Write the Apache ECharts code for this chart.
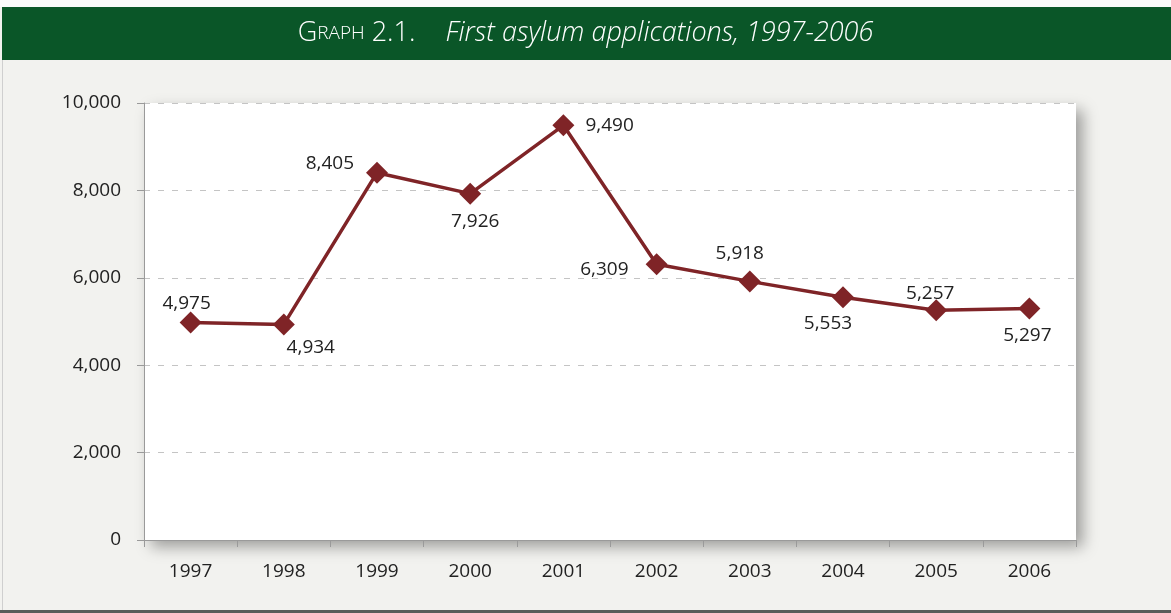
<!DOCTYPE html>
<html><head><meta charset="utf-8">
<script src="https://cdn.jsdelivr.net/npm/echarts@6/dist/echarts.min.js"></script>
<style>html,body{margin:0;padding:0;background:#f2f2ef;}#c{width:1171px;height:613px;}</style>
</head><body><div id="c"></div>
<script>
const years = ['1997','1998','1999','2000','2001','2002','2003','2004','2005','2006'];
const applications = [4975, 4934, 8405, 7926, 9490, 6309, 5918, 5553, 5257, 5297];
const yTicks = [0, 2000, 4000, 6000, 8000, 10000];
const labelPlacement = [
  {position:'top', offset:[-4,9]},
  {position:'bottom', offset:[27,-4]},
  {position:'left', offset:[-5,-9]},
  {position:'bottom', offset:[5,0]},
  {position:'right', offset:[4,0]},
  {position:'left', offset:[-10,5]},
  {position:'top', offset:[-10,0]},
  {position:'bottom', offset:[-15,-1]},
  {position:'top', offset:[-6,11]},
  {position:'bottom', offset:[-2,0]}
];
const FONT = '"Open Sans", sans-serif';
const chart = echarts.init(document.getElementById('c'), null, {renderer:'canvas'});
chart.setOption({
  backgroundColor:'#f2f2ef',
  animation:false,
  graphic:[
    {type:'rect', shape:{x:0,y:0,width:1171,height:7}, style:{fill:'#fafafa'}, z:-1},
    {type:'rect', shape:{x:2,y:7,width:1169,height:53}, style:{fill:'#0a5628'}},
    {type:'rect', shape:{x:2,y:60,width:1,height:550}, style:{fill:'#cfcfcf'}},
    {type:'rect', shape:{x:0,y:610,width:1171,height:3}, style:{fill:'#5a5a5a'}},
    {type:'text', left:'center', top:20,
      style:{
        text:'{a|G}{b|RAPH}{a| 2.1.}{s| }{i|First asylum applications, 1997-2006}',
        rich:{
          a:{fill:'#fff', fontSize:27, fontFamily:FONT, fontWeight:300},
          b:{fill:'#fff', fontSize:19, fontFamily:FONT, fontWeight:300},
          s:{width:30, fontSize:27},
          i:{fill:'#fff', fontSize:27, fontFamily:FONT, fontStyle:'italic', fontWeight:300}
        }
      }}
  ],
  grid:{left:144, right:95, top:103, bottom:73, show:true, backgroundColor:'#ffffff', borderWidth:0,
    shadowColor:'rgba(0,0,0,0.35)', shadowBlur:14, shadowOffsetX:7, shadowOffsetY:7},
  xAxis:{type:'category', data:years, boundaryGap:true,
    axisLine:{lineStyle:{color:'#9a9a9a', width:1}},
    axisTick:{show:true, length:7, lineStyle:{color:'#9a9a9a'}},
    axisLabel:{color:'#222', fontSize:19, fontFamily:FONT, margin:22}},
  yAxis:{type:'value', min:0, max:10000, interval:2000,
    axisLine:{show:true, lineStyle:{color:'#9a9a9a', width:1}},
    axisTick:{show:true, length:7, lineStyle:{color:'#9a9a9a'}},
    axisLabel:{color:'#222', fontSize:19, fontFamily:FONT, margin:23,
      formatter:v=>v.toLocaleString('en-US')},
    splitLine:{show:true, lineStyle:{color:'#c4c4c4', type:[6,8], width:1}}},
  series:[{
    type:'line', data:applications.map((v,i)=>({value:v, label:labelPlacement[i]})),
    symbol:'diamond', symbolSize:22,
    lineStyle:{color:'#7f2427', width:3.5},
    itemStyle:{color:'#7f2427'},
    label:{show:true, color:'#222', fontSize:19, fontFamily:FONT, distance:7,
      formatter:p=>p.value.toLocaleString('en-US')}
  }]
});
</script></body></html>
